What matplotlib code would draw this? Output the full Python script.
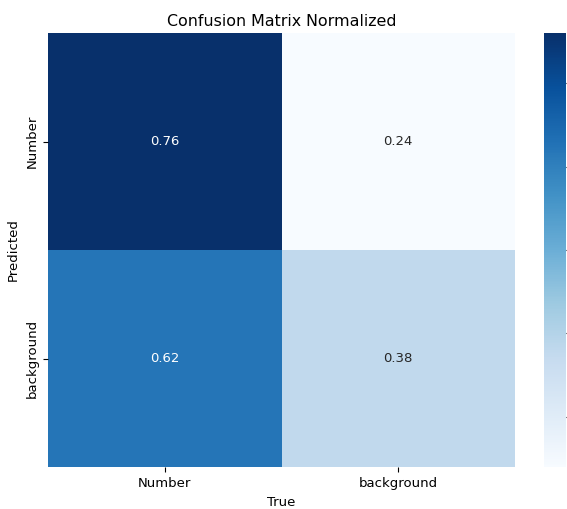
import matplotlib
matplotlib.use("Agg")
import matplotlib.pyplot as plt
import numpy as np
import seaborn as sns

predicted_labels = ["Number", "background"]
true_labels = ["Number", "background"]
row_number = [0.76, 0.24]
row_background = [0.62, 0.38]

matrix = np.array([row_number, row_background])

fig = plt.figure(figsize=(5.67, 5.09), dpi=100)
W, H = 567, 509
ax = fig.add_axes([48 / W, 1 - 467 / H, (515 - 48) / W, (467 - 33) / H])
cax = fig.add_axes([544 / W, 1 - 467 / H, 22 / W, (467 - 33) / H])

sns.heatmap(matrix, ax=ax, cbar_ax=cax, cmap="Blues", annot=True, fmt=".2f",
            annot_kws={"size": 9.5}, xticklabels=true_labels,
            yticklabels=predicted_labels, square=False)
ax.set_title("Confusion Matrix Normalized", fontsize=11.4, pad=5)
ax.set_xlabel("True", fontsize=9.5, labelpad=4.5)
ax.set_ylabel("Predicted", fontsize=9.5)
ax.tick_params(labelsize=9.5)
cax.tick_params(labelsize=9.5)

fig.savefig("out.png", dpi=100)
